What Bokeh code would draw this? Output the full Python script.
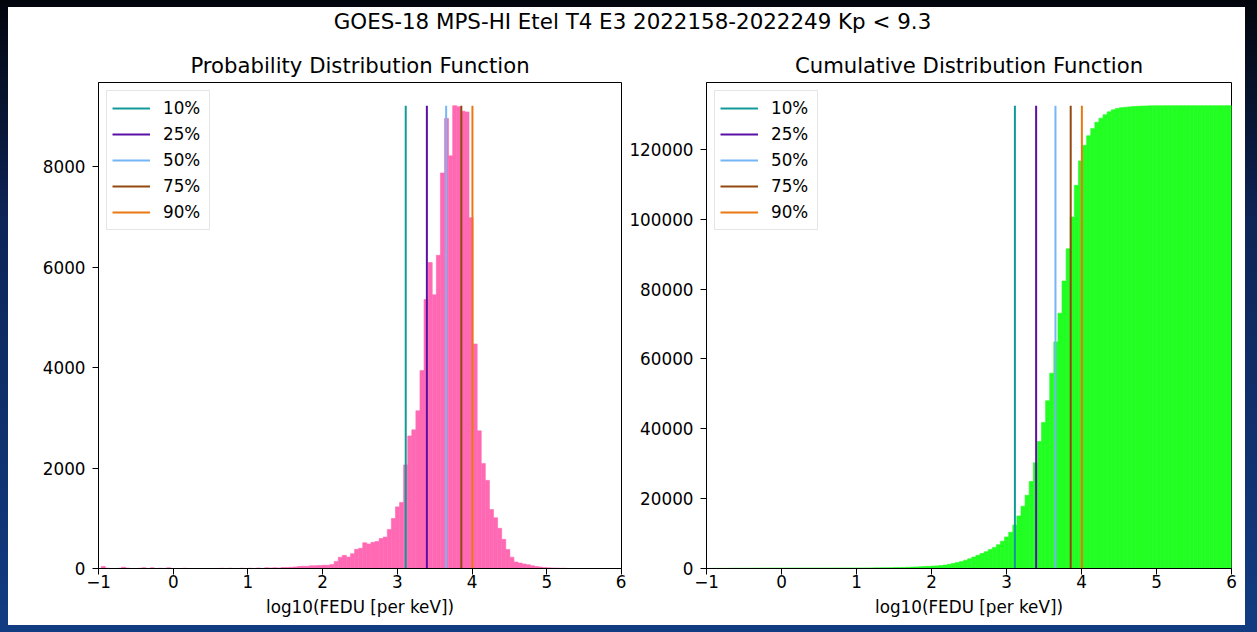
import html as htmlmod
import numpy as np
from bokeh.plotting import figure
from bokeh.layouts import column, row
from bokeh.models import Div, FixedTicker, Range1d, BasicTickFormatter
from bokeh.embed import file_html
from bokeh.resources import INLINE

# ---------------- data ----------------
main_title = "GOES-18 MPS-HI Etel T4 E3 2022158-2022249 Kp < 9.3"
pdf_title = "Probability Distribution Function"
cdf_title = "Cumulative Distribution Function"
x_label = "log10(FEDU [per keV])"

bin_start = -0.964
bin_width = 0.0547

# histogram counts per bin (128 bins)
pdf_counts = [
    40, 8, 0, 0, 5, 25, 8, 0, 0, 5,            # 0-9
    15, 0, 15, 0, 5, 0, 15, 0, 0, 0,           # 10-19
    5, 0, 0, 0, 0, 0, 0, 0, 0, 5,              # 20-29
    0, 5, 0, 0, 5, 0, 5, 0, 10, 0,             # 30-39
    15, 10, 15, 10, 20, 20, 25, 30, 40, 45,    # 40-49
    45, 55, 55, 60, 65, 65, 80, 140, 225, 262, # 50-59
    228, 295, 382, 402, 512, 488, 522, 538, 595, 625,      # 60-69
    778, 995, 1227, 1315, 2062, 2640, 2760, 3140, 3940, 5355,  # 70-79
    6090, 5450, 6235, 7875, 8960, 8215, 9215, 9195, 9105, 9090,  # 80-89
    6985, 4470, 2740, 2090, 1755, 1175, 1010, 800, 580, 380,   # 90-99
    225, 130, 110, 90, 75, 55, 40, 30, 20, 15,  # 100-109
    10, 8, 5, 5, 0, 0, 0, 0, 0, 0,              # 110-119
    0, 0, 0, 0, 0, 0, 0, 0,                     # 120-127
]

percentile_labels = ["10%", "25%", "50%", "75%", "90%"]
percentile_values = [3.112, 3.395, 3.653, 3.856, 4.005]
percentile_colors = ["#12999a", "#5c10a3", "#76b6f6", "#92480e", "#ea7812"]

x_ticks = [-1, 0, 1, 2, 3, 4, 5, 6]
pdf_y_ticks = [0, 2000, 4000, 6000, 8000]
cdf_y_ticks = [0, 20000, 40000, 60000, 80000, 100000, 120000]

pdf_color = "#ff69b4"
cdf_color = "#22ff22"

FONT = "DejaVu Sans"
TICK_PX = "16.8px"
TITLE_PX = "21.2px"

# ---------------- derived ----------------
counts = np.array(pdf_counts, dtype=float)
edges = bin_start + bin_width * np.arange(len(counts) + 1)
cdf_counts = np.cumsum(counts)


def make_panel(title, values, yticks, fill, border_left, border_right, frame_w):
    ytop = float(values.max())
    p = figure(
        frame_width=frame_w, frame_height=486,
        x_range=Range1d(-1, 6), y_range=Range1d(0, ytop * 1.05),
        output_backend="svg", toolbar_location=None,
        min_border_left=border_left, min_border_right=border_right,
        min_border_top=20, min_border_bottom=57,
        title=title,
    )
    p.background_fill_color = "white"
    p.border_fill_color = "white"
    p.outline_line_color = "black"
    p.outline_line_width = 1
    p.grid.grid_line_color = None

    p.title.text_font = FONT
    p.title.text_font_size = TITLE_PX
    p.title.text_font_style = "normal"
    p.title.text_color = "black"
    p.title.align = "center"
    p.title.standoff = 9

    p.quad(left=edges[:-1], right=edges[1:], bottom=0, top=values,
           fill_color=fill, line_color=fill, line_width=0.6)

    for lab, val, col in zip(percentile_labels, percentile_values, percentile_colors):
        p.segment(x0=[val], y0=[0], x1=[val], y1=[ytop], line_color=col,
                  line_width=2, legend_label=lab)

    p.xaxis.ticker = FixedTicker(ticks=x_ticks)
    p.xaxis.major_label_overrides = {-1: "\u22121"}
    p.yaxis.ticker = FixedTicker(ticks=yticks)
    p.yaxis.formatter = BasicTickFormatter(use_scientific=False)
    p.xaxis.axis_label = x_label
    for ax in (p.xaxis[0], p.yaxis[0]):
        ax.axis_line_color = "black"
        ax.major_tick_line_color = "black"
        ax.major_tick_out = 6
        ax.major_tick_in = 0
        ax.minor_tick_line_color = None
        ax.major_label_text_font = FONT
        ax.major_label_text_font_size = TICK_PX
        ax.major_label_text_color = "black"
        ax.axis_label_text_font = FONT
        ax.axis_label_text_font_size = TICK_PX
        ax.axis_label_text_font_style = "normal"
        ax.axis_label_text_color = "black"
    p.xaxis.major_label_standoff = 0
    p.xaxis.axis_label_standoff = 6
    p.yaxis.major_label_standoff = 7

    lg = p.legend[0]
    lg.location = "top_left"
    lg.margin = 8
    lg.padding = 5
    lg.spacing = 2
    lg.glyph_width = 38
    lg.glyph_height = 24
    lg.label_height = 24
    lg.label_width = 41
    lg.label_standoff = 13
    lg.label_text_font = FONT
    lg.label_text_font_size = TICK_PX
    lg.label_text_color = "black"
    lg.border_line_color = "#cccccc"
    lg.border_line_width = 1
    lg.background_fill_color = "white"
    lg.background_fill_alpha = 0.8
    return p


p1 = make_panel(pdf_title, counts, pdf_y_ticks, pdf_color, 90, 5, 523)
p2 = make_panel(cdf_title, cdf_counts, cdf_y_ticks, cdf_color, 80, 14, 525)

head = Div(
    text=htmlmod.escape(main_title), width=1237, height=39, margin=0,
    styles={"text-align": "center", "font-family": FONT, "font-size": "21.4px",
            "line-height": "22px", "color": "black", "background-color": "white",
            "padding-top": "4px", "padding-left": "12px",
            "box-sizing": "border-box", "overflow": "visible"},
)

layout = column(head, row(p1, p2, spacing=0), spacing=0, width=1237, height=618,
                styles={"background-color": "white"})

page = file_html(layout, INLINE, title="GOES-18 MPS-HI")
page = page.replace(
    "</head>",
    "<style>html,body{background-color:#0c1e4a;"
    "background-image:linear-gradient(180deg,#03050c 0%,#0d2558 35%,#123c82 100%);}"
    "body{padding:7px 0 0 8px !important;}</style></head>",
    1,
)
open("out.html", "w").write(page)
